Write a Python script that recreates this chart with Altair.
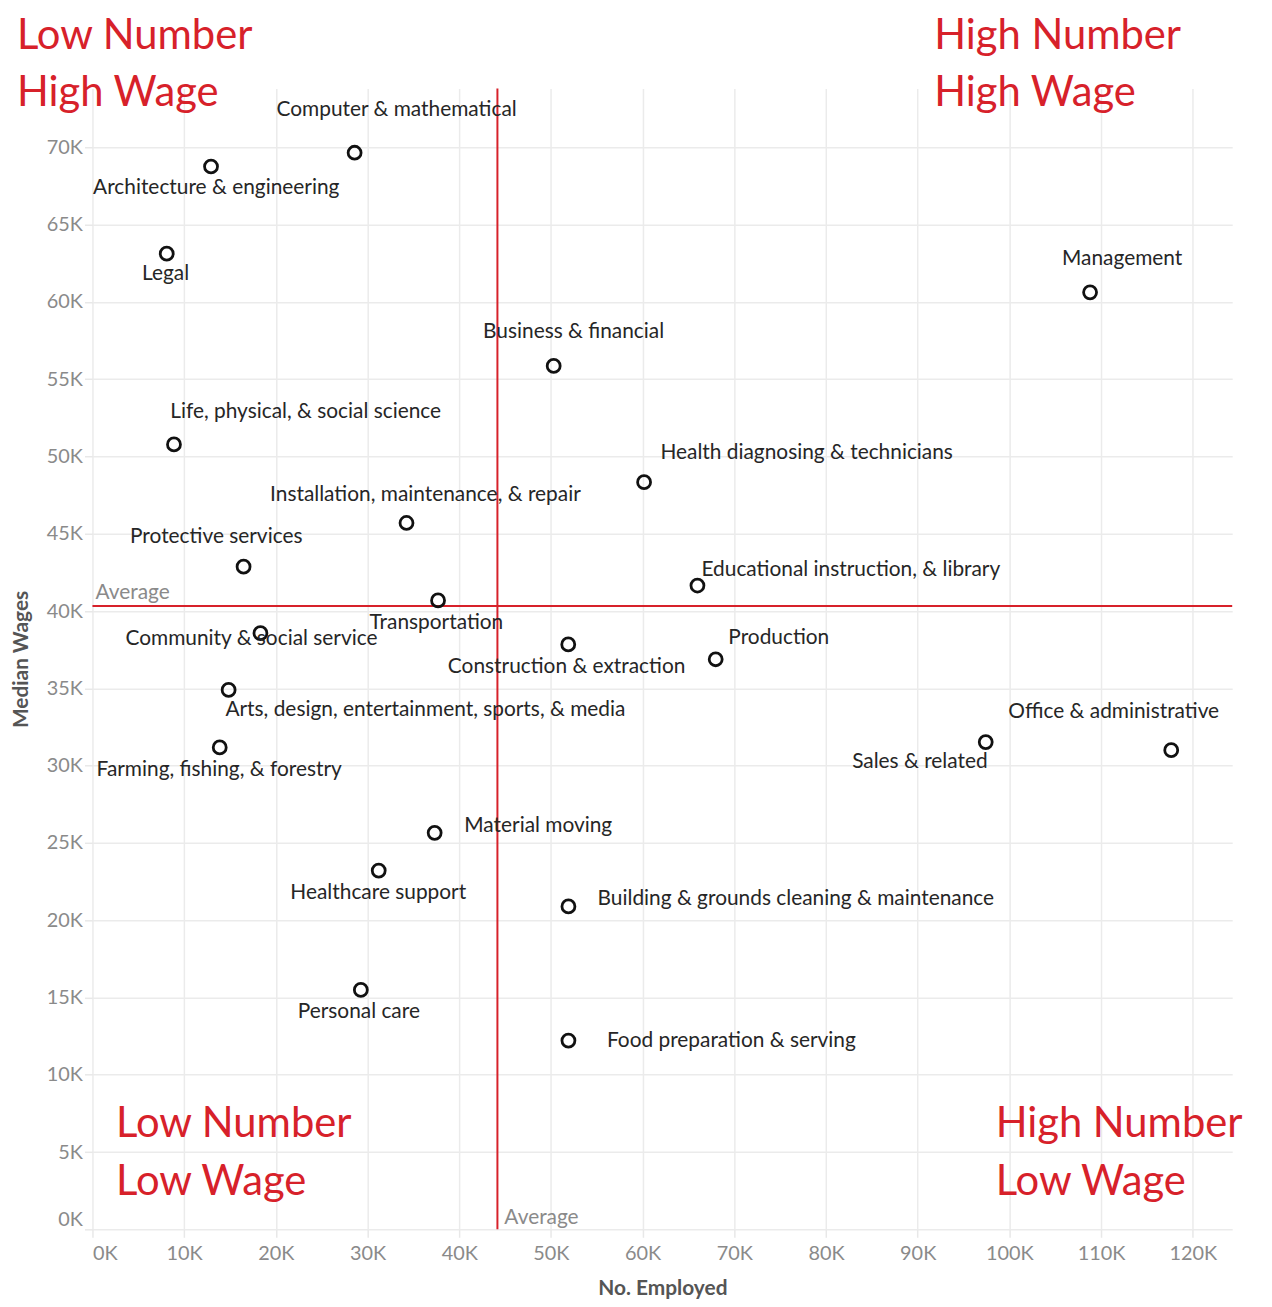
import altair as alt
import pandas as pd

occupations = [
    "Computer & mathematical", "Architecture & engineering", "Legal", "Management",
    "Business & financial", "Life, physical, & social science", "Health diagnosing & technicians",
    "Installation, maintenance, & repair", "Protective services", "Educational instruction, & library",
    "Transportation", "Community & social service", "Construction & extraction", "Production",
    "Arts, design, entertainment, sports, & media", "Farming, fishing, & forestry", "Sales & related",
    "Office & administrative", "Material moving", "Healthcare support",
    "Building & grounds cleaning & maintenance", "Personal care", "Food preparation & serving",
]
employed = [28590, 12930, 8100, 108800, 50300, 8890, 60160, 34250, 16480, 65980, 37690, 18320,
            51890, 67970, 14850, 13880, 97420, 117650, 37320, 31220, 51910, 29270, 51910]
wages = [69650, 68760, 63120, 60620, 55860, 50780, 48340, 45700, 42870, 41650, 40690, 38570,
         37840, 36880, 34900, 31180, 31520, 31000, 25650, 23210, 20890, 15490, 12210]
# label anchor (centre of each label) in data units
label_emp = [33170, 13500, 7970, 112300, 52470, 23250, 77890, 36310, 13500, 82710, 37510, 17340,
             51710, 74850, 36310, 13820, 90240, 111380, 48620, 31170, 76710, 29050, 69680]
label_wage = [72400, 67350, 61800, 62750, 58050, 52850, 50220, 47520, 44820, 42630, 39230, 38200,
              36400, 38260, 33570, 29710, 30230, 33440, 26110, 21740, 21360, 14030, 12160]

quad_text = ["Low Number", "High Wage", "High Number", "High Wage",
             "Low Number", "Low Wage", "High Number", "Low Wage"]
quad_emp = [-8240, -8240, 91800, 91800, 2570, 2570, 98500, 98500]
quad_wage = [76380, 72680, 76380, 72680, 5980, 2250, 5980, 2250]

x_ticks = list(range(0, 120001, 10000))
y_ticks = list(range(0, 70001, 5000))

df = pd.DataFrame({"occupation": occupations, "emp": employed, "wage": wages,
                   "lx": label_emp, "ly": label_wage})
qdf = pd.DataFrame({"t": quad_text, "qx": quad_emp, "qy": quad_wage})

RED = "#d7212a"
FONT = "Lato"

xscale = alt.Scale(domain=[0, 124300], nice=False, zero=False)
yscale = alt.Scale(domain=[0, 73800], nice=False, zero=False)

xaxis = alt.Axis(values=x_ticks, labelExpr="format(datum.value/1000, 'd') + 'K'",
                 title="No. Employed", labelFlush=True, labelPadding=6, titlePadding=15)
yaxis = alt.Axis(values=y_ticks, labelExpr="format(datum.value/1000, 'd') + 'K'",
                 title="Median Wages", labelFlush=True, labelPadding=2, titlePadding=15)

base = alt.Chart(df)

points = base.mark_point(shape="circle", filled=False, size=170, strokeWidth=2.8,
                         color="#111111", opacity=1).encode(
    x=alt.X("emp:Q", scale=xscale, axis=xaxis),
    y=alt.Y("wage:Q", scale=yscale, axis=yaxis),
)

labels = base.mark_text(font=FONT, fontSize=21, color="#262626", align="center",
                        baseline="middle").encode(
    x=alt.X("lx:Q", scale=xscale),
    y=alt.Y("ly:Q", scale=yscale),
    text="occupation:N",
)

vrule = base.mark_rule(color=RED, strokeWidth=2).encode(x=alt.X("mean(emp):Q", scale=xscale))
hrule = base.mark_rule(color=RED, strokeWidth=2).encode(y=alt.Y("mean(wage):Q", scale=yscale))

havg = base.mark_text(font=FONT, fontSize=21, color="#8a8a8a", align="left",
                      baseline="alphabetic", dx=3, dy=-7).encode(
    x=alt.datum(0), y=alt.Y("mean(wage):Q", scale=yscale), text=alt.value("Average"))
vavg = base.mark_text(font=FONT, fontSize=21, color="#8a8a8a", align="left",
                      baseline="alphabetic", dx=7, dy=-5).encode(
    x=alt.X("mean(emp):Q", scale=xscale), y=alt.datum(0), text=alt.value("Average"))

quads = alt.Chart(qdf).mark_text(font=FONT, fontSize=42, color=RED, align="left",
                                 baseline="alphabetic").encode(
    x=alt.X("qx:Q", scale=xscale),
    y=alt.Y("qy:Q", scale=yscale),
    text="t:N",
)

chart = alt.layer(hrule, vrule, points, labels, havg, vavg, quads).properties(
    width=1147, height=1148,
    autosize=alt.AutoSizeParams(type="none"),
    padding={"left": 85, "top": 77, "right": 32, "bottom": 66},
    background="white",
).configure_view(stroke=None).configure_axis(
    labelFont=FONT, labelFontSize=20, labelColor="#8a8a8a",
    titleFont=FONT, titleFontSize=21, titleFontWeight="bold", titleColor="#555555",
    gridColor="#ebebeb", gridWidth=1.5, tickColor="#e8e8e8", tickSize=8, tickWidth=1.5,
    domain=False,
)

chart.save("out.html", embed_options={"renderer": "svg", "actions": False})
